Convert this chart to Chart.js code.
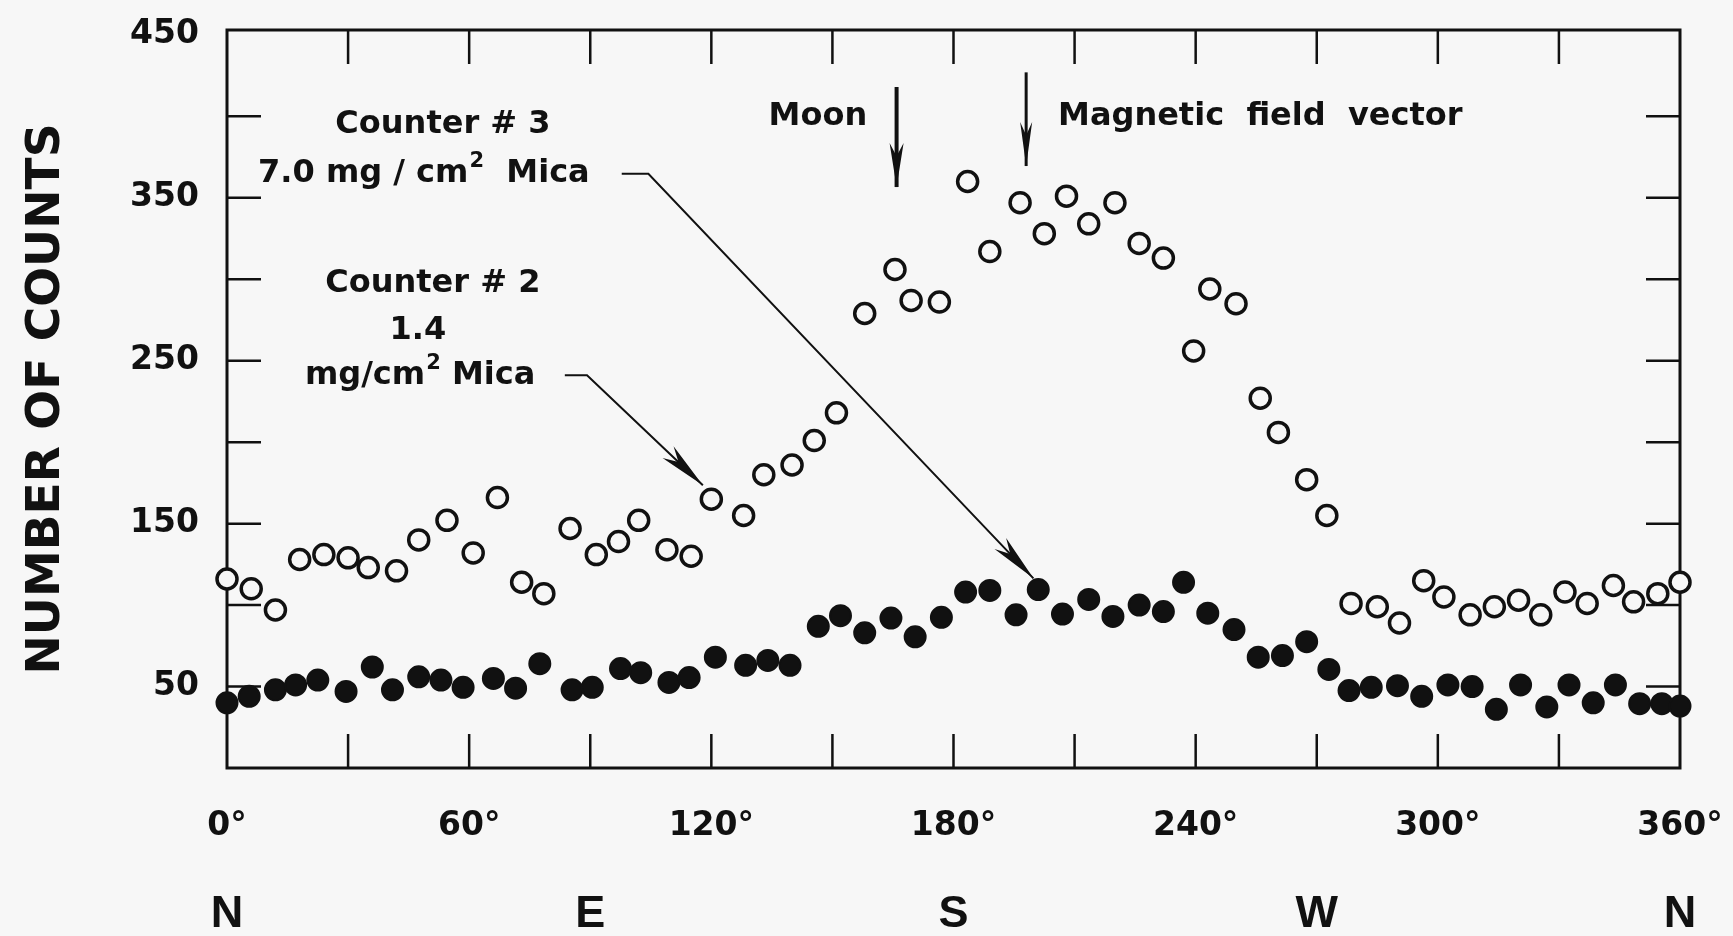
<html>
  <head>
    <style>
      body {
        margin: 0;
        background: #f7f7f7;
        overflow: hidden;
      }
    </style>
  </head>
  <body>
    <canvas id="chart" width="1733" height="936"></canvas>
    <script src="https://cdn.jsdelivr.net/npm/chart.js@4.4.1/dist/chart.umd.min.js"></script>
    <script>
      // azimuth in degrees and number of counts
      const counter2_deg = [
        0, 6, 12, 18, 24, 30, 35, 42, 47.5, 54.5, 61, 67, 73, 78.5, 85, 91.5,
        97, 102, 109, 115, 120, 128, 133, 140, 145.5, 151, 158, 165.5, 169.5,
        176.5, 183.5, 189, 196.5, 202.5, 208, 213.5, 220, 226, 232, 239.5,
        243.5, 250, 256, 260.5, 267.5, 272.5, 278.5, 285, 290.5, 296.5, 301.5,
        308, 314, 320, 325.5, 331.5, 337, 343.5, 348.5, 354.5, 360,
      ];
      const counter2_counts = [
        116, 110, 97, 128, 131, 129, 123, 121, 140, 152, 132, 166, 114, 107,
        147, 131, 139, 152, 134, 130, 165, 155, 180, 186, 201, 218, 279, 306,
        287, 286, 360, 317, 347, 328, 351, 334, 347, 322, 313, 256, 294, 285,
        227, 206, 177, 155, 101, 99, 89, 115, 105, 94, 99, 103, 94, 108, 101,
        112, 102, 107, 114,
      ];
      const counter3_deg = [
        0, 5.5, 12, 17, 22.5, 29.5, 36, 41, 47.5, 53, 58.5, 66, 71.5, 77.5,
        85.5, 90.5, 97.5, 102.5, 109.5, 114.5, 121, 128.5, 134, 139.5, 146.5,
        152, 158, 164.5, 170.5, 177, 183, 189, 195.5, 201, 207, 213.5, 219.5,
        226, 232, 237, 243, 249.5, 255.5, 261.5, 267.5, 273, 278, 283.5, 290,
        296, 302.5, 308.5, 314.5, 320.5, 327, 332.5, 338.5, 344, 350, 355.5,
        360,
      ];
      const counter3_counts = [
        40, 44, 48, 51, 54, 47, 62, 48, 56, 54, 49.5, 55, 49, 64, 48, 49.5, 61,
        58.5, 52.5, 55.5, 68, 63, 66, 63, 87, 93.5, 83, 92, 80.5, 92.5, 108,
        109, 94, 109.5, 94.5, 103.5, 93, 100, 96, 114, 95, 85, 68, 69, 77.5,
        60.5, 47.5, 49.5, 50.5, 44, 51, 50, 36, 51, 37.5, 51, 40, 51, 39.5,
        39.5, 38,
      ];

      const y_ticks = [0, 50, 100, 150, 200, 250, 300, 350, 400, 450];
      const y_labels = [50, 150, 250, 350, 450];
      const x_ticks = [0, 30, 60, 90, 120, 150, 180, 210, 240, 270, 300, 330, 360];
      const x_labels = [0, 60, 120, 180, 240, 300, 360];
      const compass_deg = [0, 90, 180, 270, 360];
      const compass_names = ["N", "E", "S", "W", "N"];

      // annotation anchors, in (degrees, counts)
      const moon_arrow = [[165.9, 418], [165.9, 356.6]];
      const field_arrow = [[198, 427], [198, 369.5]];
      const counter3_leader = [[97.8, 364.8], [104.4, 364.8], [199.8, 116.4]];
      const counter2_leader = [[83.7, 241.1], [89.2, 241.1], [117.9, 173.6]];

      const ink = "#111";
      const paper = "#f7f7f7";
      const label_font = "bold 32px 'DejaVu Sans'";
      const sup_font = "bold 21px 'DejaVu Sans'";

      const to_px = (chart, pt) => [
        chart.scales.x.getPixelForValue(pt[0]),
        chart.scales.y.getPixelForValue(pt[1]),
      ];

      const draw_head = (ctx, x1, y1, x2, y2, len, half) => {
        const ang = Math.atan2(y2 - y1, x2 - x1);
        const c = Math.cos(ang);
        const s = Math.sin(ang);
        const bx = x2 - c * len;
        const by = y2 - s * len;
        ctx.beginPath();
        ctx.moveTo(x2, y2);
        ctx.lineTo(bx - s * half, by + c * half);
        ctx.lineTo(x2 - c * len * 0.7, y2 - s * len * 0.7);
        ctx.lineTo(bx + s * half, by - c * half);
        ctx.closePath();
        ctx.fill();
      };

      const draw_leader = (chart, pts, width, len, half) => {
        const ctx = chart.ctx;
        const px = pts.map((p) => to_px(chart, p));
        ctx.lineWidth = width;
        ctx.beginPath();
        px.forEach((p, i) => (i ? ctx.lineTo(p[0], p[1]) : ctx.moveTo(p[0], p[1])));
        ctx.stroke();
        const a = px[px.length - 2];
        const b = px[px.length - 1];
        draw_head(ctx, a[0], a[1], b[0], b[1], len, half);
      };

      // text with a superscript 2, drawn left to right from x
      const draw_sup = (ctx, x, y, pre, post) => {
        ctx.textAlign = "left";
        ctx.font = label_font;
        ctx.fillText(pre, x, y);
        x += ctx.measureText(pre).width + 1;
        ctx.font = sup_font;
        ctx.fillText("2", x, y - 12);
        x += ctx.measureText("2").width;
        ctx.font = label_font;
        ctx.fillText(post, x, y);
      };

      const frame = {
        id: "frame",
        beforeDatasetsDraw: (chart) => {
          const { ctx, chartArea: a, scales } = chart;
          const len = 34;
          ctx.save();
          ctx.strokeStyle = ink;
          ctx.lineWidth = 3;
          ctx.strokeRect(a.left, a.top, a.right - a.left, a.bottom - a.top);
          ctx.lineWidth = 2.5;
          ctx.beginPath();
          for (const t of scales.x.ticks) {
            const p = scales.x.getPixelForValue(t.value);
            if (p - a.left < 8 || a.right - p < 8) continue;
            ctx.moveTo(p, a.bottom);
            ctx.lineTo(p, a.bottom - len);
            ctx.moveTo(p, a.top);
            ctx.lineTo(p, a.top + len);
          }
          for (const t of scales.y.ticks) {
            const p = scales.y.getPixelForValue(t.value);
            if (p - a.top < 8 || a.bottom - p < 8) continue;
            ctx.moveTo(a.left, p);
            ctx.lineTo(a.left + len, p);
            ctx.moveTo(a.right, p);
            ctx.lineTo(a.right - len, p);
          }
          ctx.stroke();
          ctx.restore();
        },
      };

      const notes = {
        id: "notes",
        afterDatasetsDraw: (chart) => {
          const ctx = chart.ctx;
          ctx.save();
          ctx.fillStyle = ink;
          ctx.strokeStyle = ink;
          ctx.textBaseline = "middle";

          draw_leader(chart, moon_arrow, 4, 44, 7);
          draw_leader(chart, field_arrow, 3, 44, 6);
          draw_leader(chart, counter3_leader, 2, 48, 8);
          draw_leader(chart, counter2_leader, 2, 48, 8);

          ctx.font = label_font;
          ctx.textAlign = "center";
          let p = to_px(chart, [146.4, 400]);
          ctx.fillText("Moon", p[0], p[1]);
          p = to_px(chart, [53.5, 395]);
          ctx.fillText("Counter # 3", p[0], p[1]);
          p = to_px(chart, [51, 297.5]);
          ctx.fillText("Counter # 2", p[0], p[1]);
          p = to_px(chart, [47.3, 268.7]);
          ctx.fillText("1.4", p[0], p[1]);

          ctx.textAlign = "left";
          p = to_px(chart, [205.9, 400]);
          ctx.fillText("Magnetic  field  vector", p[0], p[1]);

          p = to_px(chart, [7.7, 365]);
          draw_sup(ctx, p[0], p[1], "7.0 mg / cm", "  Mica");
          p = to_px(chart, [19.3, 241.1]);
          draw_sup(ctx, p[0], p[1], "mg/cm", " Mica");
          ctx.restore();
        },
      };

      const tick_font = { family: "DejaVu Sans", size: 33, weight: "bold" };

      // fixed axis boxes, no label overhang padding
      const fix_x = (h) => (s) => {
        s.height = h;
        s.paddingLeft = 0;
        s.paddingRight = 0;
      };

      new Chart(document.getElementById("chart"), {
        type: "scatter",
        data: {
          datasets: [
            {
              label: "Counter #2",
              data: counter2_deg.map((d, i) => ({ x: d, y: counter2_counts[i] })),
              pointRadius: 10,
              pointBorderWidth: 3.5,
              pointBackgroundColor: paper,
              pointBorderColor: ink,
              clip: false,
            },
            {
              label: "Counter #3",
              data: counter3_deg.map((d, i) => ({ x: d, y: counter3_counts[i] })),
              pointRadius: 10.5,
              pointBorderWidth: 2,
              pointBackgroundColor: ink,
              pointBorderColor: ink,
              clip: false,
            },
          ],
        },
        options: {
          responsive: false,
          animation: false,
          devicePixelRatio: 1,
          layout: { padding: { top: 30, right: 53, left: 0, bottom: 0 } },
          plugins: {
            legend: { display: false },
            tooltip: { enabled: false },
          },
          scales: {
            x: {
              type: "linear",
              position: "bottom",
              weight: 0,
              min: 0,
              max: 360,
              afterBuildTicks: (s) => {
                s.ticks = x_ticks.map((v) => ({ value: v }));
              },
              afterFit: fix_x(94),
              grid: { display: false, drawTicks: false },
              border: { display: false },
              ticks: {
                autoSkip: false,
                maxRotation: 0,
                padding: 39,
                color: ink,
                font: tick_font,
                callback: (v) => (x_labels.includes(v) ? v + "°" : ""),
              },
            },
            compass: {
              type: "linear",
              position: "bottom",
              weight: 1,
              min: 0,
              max: 360,
              afterBuildTicks: (s) => {
                s.ticks = compass_deg.map((v) => ({ value: v }));
              },
              afterFit: fix_x(74),
              grid: { display: false, drawTicks: false },
              border: { display: false },
              ticks: {
                autoSkip: false,
                maxRotation: 0,
                padding: 26,
                color: ink,
                font: { family: "Liberation Sans", size: 45, weight: "bold" },
                callback: (v, i) => compass_names[i],
              },
            },
            y: {
              type: "linear",
              min: 0,
              max: 453,
              afterBuildTicks: (s) => {
                s.ticks = y_ticks.map((v) => ({ value: v }));
              },
              afterFit: (s) => {
                s.width = 227;
                s.paddingTop = 0;
                s.paddingBottom = 0;
              },
              grid: { display: false, drawTicks: false },
              border: { display: false },
              ticks: {
                padding: 28,
                color: ink,
                font: tick_font,
                callback: (v) => (y_labels.includes(v) ? String(v) : ""),
              },
              title: {
                display: true,
                text: "NUMBER OF COUNTS",
                color: ink,
                padding: { top: 19, bottom: 0 },
                font: { family: "DejaVu Sans", size: 47, weight: "bold" },
              },
            },
          },
        },
        plugins: [frame, notes],
      });
    </script>
  </body>
</html>
